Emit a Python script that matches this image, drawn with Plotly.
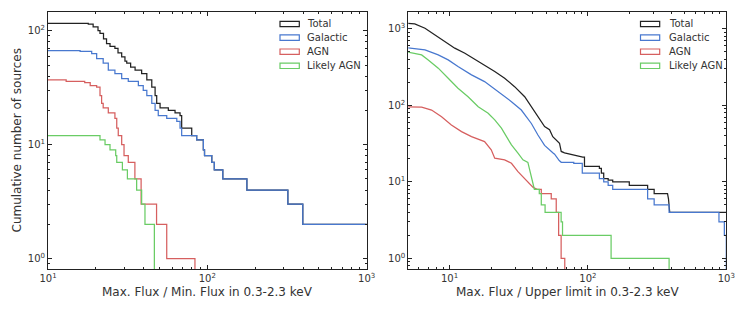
import math
import plotly.graph_objects as go

# ---------------- data: left panel (Max. Flux / Min. Flux) — step data (value holds from x_i to x_{i+1})
left_total_x = [10, 17.9, 19.2, 20.6, 21.2, 22.3, 23.3, 24.5, 26.3, 27.5, 29.0, 30.4, 31.2, 33.0, 35.2, 38.7,
                41.7, 44.8, 47.0, 48.1, 50.5, 56.9, 62.7, 67.4, 69.0, 79.8, 85.7, 94.4, 96.0, 106.6, 110.6,
                125, 177, 320, 397, 1100]
left_total_y = [116, 114, 108, 100, 95, 85, 77, 73, 70, 64, 59, 54, 52, 48, 45, 42,
                37, 32, 27, 23, 21, 20, 19, 18, 14, 12, 11, 9, 8, 7, 6,
                5, 4, 3, 2, 2]

left_gal_x = [10, 15.9, 18.8, 20.2, 22.2, 23.9, 26.3, 29.0, 31.9, 36.9, 39.6, 41.7, 44.8, 47.0, 49.2, 55.6,
              64.3, 67.4, 69.0, 85.7, 94.4, 96.0, 106.6, 110.6, 125, 177, 320, 397, 1100]
left_gal_y = [67, 66, 63, 57, 52, 45, 42, 38, 36, 33, 30, 27, 23, 20, 18, 17,
              16, 14, 12, 11, 9, 8, 7, 6, 5, 4, 3, 2, 2]

left_agn_x = [10, 13, 17, 18.4, 20.2, 21.2, 21.7, 22.2, 23.9, 26.3, 27.0, 27.6, 29.0, 30.0, 31.9, 35.1,
              38.4, 48.0, 55.6, 83.6]
left_agn_y = [37, 36, 35, 33, 32, 27, 23, 21, 19, 17, 14, 12, 10, 8, 7, 5,
              3, 2, 1, 0.1]

left_lagn_x = [10, 21.2, 22.8, 24.5, 26.6, 27.0, 29.3, 31.5, 36.0, 38.7, 40.6, 46.5]
left_lagn_y = [12, 11, 10, 9, 8, 7, 6, 5, 4, 3, 2, 0.1]

# ---------------- data: right panel (Max. Flux / Upper limit) — curve vertices
right_total_x = [5, 5.6, 6.64, 7.83, 9.25, 10.9, 12.9, 15.2, 17.9, 21.2, 25.0, 29.5, 34.9, 39, 43.5, 48.6,
                 52.8, 55.7, 62.3, 64.1, 67.7, 77.9, 80, 91.8, 94.4, 94.4, 121, 121, 125, 125, 130, 130,
                 140, 140, 151, 151, 199, 199, 270, 270, 301, 301, 376, 382, 390, 397, 1000]
right_total_y = [1180, 1167, 1023, 837, 684, 561, 482, 402, 339, 277, 227, 176, 130, 96, 71, 53,
                 48, 39, 32, 25, 24, 22.5, 22, 21, 21, 16, 16, 15, 15, 13, 13, 11,
                 11, 10.5, 10.5, 10, 10, 9, 9, 8, 8, 7, 7, 6, 4, 4, 4]

right_gal_x = [5, 6.64, 8.28, 9.77, 11.5, 14.4, 17.9, 22.4, 28, 33, 39, 43.5, 48.6, 55.7, 57.4, 62, 64.1,
               79, 79, 91, 91, 121, 121, 130, 130, 140, 140, 151, 151, 270, 270, 301, 301, 386, 386,
               885, 885, 968, 968, 1000, 1000]
right_gal_y = [565, 532, 458, 394, 322, 251, 205, 152, 112, 87, 58, 41, 30, 24, 23, 19, 18,
               18, 17.5, 17.5, 13, 13, 11, 11, 10, 10, 9, 9, 8, 8, 6, 6, 5, 5, 4,
               4, 3, 3, 2, 2, 0.1]

right_agn_x = [5, 6.28, 7.41, 8.75, 10.3, 12.2, 14.4, 17.9, 20, 21.2, 25, 28, 31.2, 34.8, 37.9, 40,
               43, 46, 46, 54.3, 54.3, 59, 59, 61.4, 61.4, 64, 64, 68, 68]
right_agn_y = [96, 95, 87, 71, 55.6, 45.4, 39, 33.6, 26.2, 20.4, 19.4, 17.5, 13.6, 11.1, 9.6, 8.5,
               8, 8, 7, 7, 6, 6, 4, 4, 2, 2, 1, 1, 0.1]

right_lagn_x = [5, 6.28, 7.01, 8.28, 9.77, 11.5, 13.6, 16.1, 19, 21.2, 23.7, 25.8, 28, 31.2, 33.9, 36.8,
                37.9, 40, 41, 44.5, 44.5, 46, 46, 49, 49, 64, 64, 65.5, 65.5, 147, 147, 386, 386]
right_lagn_y = [500, 458, 394, 307, 227, 168, 130, 96, 79, 64.6, 50.3, 39, 30.4, 23.7, 19.4, 18,
                14.3, 9.6, 8, 8, 7, 7, 5, 5, 4, 4, 3, 3, 2, 2, 1, 1, 0.1]

series_names = ["Total", "Galactic", "AGN", "Likely AGN"]
series_colors = ["#222222", "#4878CF", "#D65F5F", "#6ACC65"]

x_major = [10, 100, 1000]
x_major_text = ["10<sup>1</sup>", "10<sup>2</sup>", "10<sup>3</sup>"]
yl_major = [1, 10, 100]
yl_major_text = ["10<sup>0</sup>", "10<sup>1</sup>", "10<sup>2</sup>"]
yr_major = [1, 10, 100, 1000]
yr_major_text = ["10<sup>0</sup>", "10<sup>1</sup>", "10<sup>2</sup>", "10<sup>3</sup>"]

xtitle_left = "Max. Flux / Min. Flux in 0.3-2.3 keV"
xtitle_right = "Max. Flux / Upper limit in 0.3-2.3 keV"
ytitle = "Cumulative number of sources"

# ---------------- figure
W, H = 747, 312
FONT = "DejaVu Sans"
TXT = "#333333"
AX = "#222222"

minor_vals = [m * 10 ** e for e in range(-1, 4) for m in range(2, 10)] + [0.8, 0.9]

fig = go.Figure()

left_sets = [(left_total_x, left_total_y), (left_gal_x, left_gal_y),
             (left_agn_x, left_agn_y), (left_lagn_x, left_lagn_y)]
right_sets = [(right_total_x, right_total_y), (right_gal_x, right_gal_y),
              (right_agn_x, right_agn_y), (right_lagn_x, right_lagn_y)]

for (xs, ys), name, col in zip(left_sets, series_names, series_colors):
    fig.add_trace(go.Scatter(x=xs, y=ys, mode="lines", name=name, showlegend=False,
                             line=dict(color=col, width=1.25, shape="hv"),
                             xaxis="x", yaxis="y"))
for (xs, ys), name, col in zip(right_sets, series_names, series_colors):
    fig.add_trace(go.Scatter(x=xs, y=ys, mode="lines", name=name, showlegend=False,
                             line=dict(color=col, width=1.25, shape="linear"),
                             xaxis="x2", yaxis="y2"))

def px_x(p):
    return p / W

def px_y(p):
    return 1 - p / H

ydom = [px_y(269.3), px_y(11.7)]

common = dict(type="log", showgrid=False, zeroline=False, showline=True, linecolor=AX, linewidth=1,
              mirror="allticks", ticks="inside", ticklen=4, tickwidth=1, tickcolor=AX, automargin=False,
              tickmode="array", tickfont=dict(family=FONT, size=10, color=TXT),
              minor=dict(tickmode="array", tickvals=minor_vals, ticks="inside", ticklen=2,
                         tickwidth=0.8, tickcolor=AX, showgrid=False))

fig.update_layout(
    width=W, height=H, margin=dict(l=0, r=0, t=0, b=0, pad=0, autoexpand=False),
    paper_bgcolor="white", plot_bgcolor="white",
    font=dict(family=FONT, color=TXT),
    xaxis=dict(common, domain=[px_x(48), px_x(366.7)], range=[1, 3], anchor="y",
               tickvals=x_major, ticktext=x_major_text),
    yaxis=dict(common, domain=ydom, range=[-0.094, 2.167], anchor="x",
               tickvals=yl_major, ticktext=yl_major_text),
    xaxis2=dict(common, domain=[px_x(408.3), px_x(726.3)], range=[math.log10(5.03), 3], anchor="y2",
                tickvals=x_major, ticktext=x_major_text),
    yaxis2=dict(common, domain=ydom, range=[-0.144, 3.226], anchor="x2",
                tickvals=yr_major, ticktext=yr_major_text),
)

annotations = [
    dict(text=xtitle_left, x=px_x(207.4), y=px_y(292), xref="paper", yref="paper",
         xanchor="center", yanchor="middle", showarrow=False, font=dict(family=FONT, size=12, color=TXT)),
    dict(text=xtitle_right, x=px_x(567.3), y=px_y(292), xref="paper", yref="paper",
         xanchor="center", yanchor="middle", showarrow=False, font=dict(family=FONT, size=12, color=TXT)),
    dict(text=ytitle, x=px_x(16), y=px_y(140.5), xref="paper", yref="paper", textangle=-90,
         xanchor="center", yanchor="middle", showarrow=False, font=dict(family=FONT, size=12, color=TXT)),
]
shapes = []
legend_rows = [24, 37.6, 51.7, 65.8]
for bx0, bx1, tx in [(280, 299.3, 305), (640.5, 659.7, 667)]:
    for name, col, cy in zip(series_names, series_colors, legend_rows):
        shapes.append(dict(type="rect", xref="paper", yref="paper",
                           x0=px_x(bx0), x1=px_x(bx1), y0=px_y(cy + 2.7), y1=px_y(cy - 2.7),
                           line=dict(color=col, width=1.2), fillcolor="rgba(0,0,0,0)"))
        annotations.append(dict(text=name, x=px_x(tx), y=px_y(cy), xref="paper", yref="paper",
                                xanchor="left", yanchor="middle", showarrow=False,
                                font=dict(family=FONT, size=10, color=TXT)))

fig.update_layout(annotations=annotations, shapes=shapes)
fig.write_html("out.html", config={"displayModeBar": False},
               post_script="document.body.style.margin='0px';document.body.style.overflow='hidden';")
